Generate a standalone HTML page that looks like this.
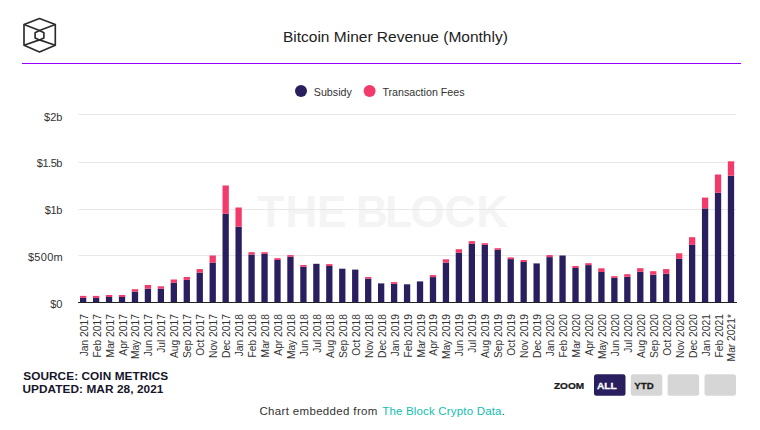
<!DOCTYPE html>
<html><head><meta charset="utf-8"><style>
html,body{margin:0;padding:0;background:#fff;width:760px;height:430px;overflow:hidden}
svg{display:block}
text{font-family:"Liberation Sans",Arial,sans-serif}
</style></head><body>
<svg width="760" height="430" viewBox="0 0 760 430">
<rect width="760" height="430" fill="#fff"/>
<g fill="none" stroke="#2b2b2b" stroke-width="1.65" stroke-linejoin="round">
<path d="M39.5 18.6 L55.3 24.6 L55.3 45.2 L39.5 52 L24 45.2 L24 24.6 Z"/>
<path d="M24 24.6 L39.5 30.6 L55.3 24.6 M24 45.2 L39.5 39.9 L55.3 45.2"/>
<path d="M39.5 30.6 L43.9 32.7 L43.9 37.9 L39.5 39.9 L35.1 37.9 L35.1 32.7 Z"/>
</g>
<text x="395.4" y="41.8" text-anchor="middle" font-size="15.5" fill="#222">Bitcoin Miner Revenue (Monthly)</text>
<rect x="22" y="63" width="719" height="1" fill="#9500ff"/>
<circle cx="301" cy="91" r="6" fill="#2a1f5e"/>
<text x="313.8" y="95.8" font-size="10.7" fill="#333">Subsidy</text>
<circle cx="369.6" cy="91" r="6" fill="#f23a6b"/>
<text x="382.4" y="95.8" font-size="10.7" fill="#333">Transaction Fees</text>
<text x="257.5 285.4 316.95 340 356.0 385.0 410.5 444.2 476.5" y="226.9" font-size="44" font-weight="bold" fill="#f4f4f4">THE BLOCK</text>
<rect x="78.5" y="114.0" width="657.5" height="1" fill="#e8e8e8"/><rect x="78.5" y="162.0" width="657.5" height="1" fill="#e8e8e8"/><rect x="78.5" y="209.0" width="657.5" height="1" fill="#e8e8e8"/><rect x="78.5" y="255.0" width="657.5" height="1" fill="#e8e8e8"/>
<g font-size="11" fill="#333"><text x="62.4" y="120.9" text-anchor="end" letter-spacing="0">$2b</text><text x="62.0" y="166.8" text-anchor="end" letter-spacing="-0.45">$1.5b</text><text x="62.1" y="213.6" text-anchor="end" letter-spacing="-0.3">$1b</text><text x="63.1" y="261.1" text-anchor="end" letter-spacing="0.3">$500m</text><text x="62.4" y="307.8" text-anchor="end" letter-spacing="0">$0</text></g>
<rect x="79.99" y="297.9" width="6.3" height="4.6" fill="#2a1f5e"/><rect x="79.99" y="295.9" width="6.3" height="2.0" fill="#f23a6b"/><rect x="92.95" y="297.9" width="6.3" height="4.6" fill="#2a1f5e"/><rect x="92.95" y="295.9" width="6.3" height="2.0" fill="#f23a6b"/><rect x="105.90" y="297.0" width="6.3" height="5.5" fill="#2a1f5e"/><rect x="105.90" y="295.0" width="6.3" height="2.0" fill="#f23a6b"/><rect x="118.86" y="297.0" width="6.3" height="5.5" fill="#2a1f5e"/><rect x="118.86" y="295.0" width="6.3" height="2.0" fill="#f23a6b"/><rect x="131.82" y="291.6" width="6.3" height="10.9" fill="#2a1f5e"/><rect x="131.82" y="289.2" width="6.3" height="2.4" fill="#f23a6b"/><rect x="144.77" y="288.7" width="6.3" height="13.8" fill="#2a1f5e"/><rect x="144.77" y="285.0" width="6.3" height="3.7" fill="#f23a6b"/><rect x="157.73" y="288.7" width="6.3" height="13.8" fill="#2a1f5e"/><rect x="157.73" y="286.3" width="6.3" height="2.4" fill="#f23a6b"/><rect x="170.69" y="282.8" width="6.3" height="19.7" fill="#2a1f5e"/><rect x="170.69" y="279.5" width="6.3" height="3.3" fill="#f23a6b"/><rect x="183.65" y="279.9" width="6.3" height="22.6" fill="#2a1f5e"/><rect x="183.65" y="277.0" width="6.3" height="2.9" fill="#f23a6b"/><rect x="196.60" y="272.6" width="6.3" height="29.9" fill="#2a1f5e"/><rect x="196.60" y="269.1" width="6.3" height="3.5" fill="#f23a6b"/><rect x="209.56" y="262.8" width="6.3" height="39.7" fill="#2a1f5e"/><rect x="209.56" y="255.5" width="6.3" height="7.3" fill="#f23a6b"/><rect x="222.52" y="213.8" width="6.3" height="88.7" fill="#2a1f5e"/><rect x="222.52" y="185.5" width="6.3" height="28.3" fill="#f23a6b"/><rect x="235.47" y="226.7" width="6.3" height="75.8" fill="#2a1f5e"/><rect x="235.47" y="207.5" width="6.3" height="19.2" fill="#f23a6b"/><rect x="248.43" y="254.6" width="6.3" height="47.9" fill="#2a1f5e"/><rect x="248.43" y="252.2" width="6.3" height="2.4" fill="#f23a6b"/><rect x="261.39" y="253.9" width="6.3" height="48.6" fill="#2a1f5e"/><rect x="261.39" y="252.2" width="6.3" height="1.7" fill="#f23a6b"/><rect x="274.35" y="260.0" width="6.3" height="42.5" fill="#2a1f5e"/><rect x="274.35" y="258.2" width="6.3" height="1.8" fill="#f23a6b"/><rect x="287.30" y="256.8" width="6.3" height="45.7" fill="#2a1f5e"/><rect x="287.30" y="255.1" width="6.3" height="1.7" fill="#f23a6b"/><rect x="300.26" y="266.7" width="6.3" height="35.8" fill="#2a1f5e"/><rect x="300.26" y="265.0" width="6.3" height="1.7" fill="#f23a6b"/><rect x="313.22" y="263.8" width="6.3" height="38.7" fill="#2a1f5e"/><rect x="326.17" y="266.0" width="6.3" height="36.5" fill="#2a1f5e"/><rect x="326.17" y="264.1" width="6.3" height="1.9" fill="#f23a6b"/><rect x="339.13" y="268.7" width="6.3" height="33.8" fill="#2a1f5e"/><rect x="352.09" y="269.6" width="6.3" height="32.9" fill="#2a1f5e"/><rect x="365.04" y="278.6" width="6.3" height="23.9" fill="#2a1f5e"/><rect x="365.04" y="277.0" width="6.3" height="1.6" fill="#f23a6b"/><rect x="378.00" y="283.4" width="6.3" height="19.1" fill="#2a1f5e"/><rect x="390.96" y="283.8" width="6.3" height="18.7" fill="#2a1f5e"/><rect x="390.96" y="282.1" width="6.3" height="1.7" fill="#f23a6b"/><rect x="403.92" y="284.3" width="6.3" height="18.2" fill="#2a1f5e"/><rect x="416.87" y="281.4" width="6.3" height="21.1" fill="#2a1f5e"/><rect x="429.83" y="277.1" width="6.3" height="25.4" fill="#2a1f5e"/><rect x="429.83" y="275.1" width="6.3" height="2.0" fill="#f23a6b"/><rect x="442.79" y="262.6" width="6.3" height="39.9" fill="#2a1f5e"/><rect x="442.79" y="259.3" width="6.3" height="3.3" fill="#f23a6b"/><rect x="455.74" y="252.8" width="6.3" height="49.7" fill="#2a1f5e"/><rect x="455.74" y="249.2" width="6.3" height="3.6" fill="#f23a6b"/><rect x="468.70" y="243.9" width="6.3" height="58.6" fill="#2a1f5e"/><rect x="468.70" y="241.2" width="6.3" height="2.7" fill="#f23a6b"/><rect x="481.66" y="244.9" width="6.3" height="57.6" fill="#2a1f5e"/><rect x="481.66" y="243.2" width="6.3" height="1.7" fill="#f23a6b"/><rect x="494.61" y="249.9" width="6.3" height="52.6" fill="#2a1f5e"/><rect x="494.61" y="248.2" width="6.3" height="1.7" fill="#f23a6b"/><rect x="507.57" y="259.1" width="6.3" height="43.4" fill="#2a1f5e"/><rect x="507.57" y="257.4" width="6.3" height="1.7" fill="#f23a6b"/><rect x="520.53" y="262.0" width="6.3" height="40.5" fill="#2a1f5e"/><rect x="520.53" y="260.0" width="6.3" height="2.0" fill="#f23a6b"/><rect x="533.49" y="263.4" width="6.3" height="39.1" fill="#2a1f5e"/><rect x="546.44" y="257.1" width="6.3" height="45.4" fill="#2a1f5e"/><rect x="546.44" y="255.1" width="6.3" height="2.0" fill="#f23a6b"/><rect x="559.40" y="255.5" width="6.3" height="47.0" fill="#2a1f5e"/><rect x="572.36" y="268.0" width="6.3" height="34.5" fill="#2a1f5e"/><rect x="572.36" y="266.0" width="6.3" height="2.0" fill="#f23a6b"/><rect x="585.31" y="265.1" width="6.3" height="37.4" fill="#2a1f5e"/><rect x="585.31" y="263.2" width="6.3" height="1.9" fill="#f23a6b"/><rect x="598.27" y="272.0" width="6.3" height="30.5" fill="#2a1f5e"/><rect x="598.27" y="268.3" width="6.3" height="3.7" fill="#f23a6b"/><rect x="611.23" y="277.9" width="6.3" height="24.6" fill="#2a1f5e"/><rect x="611.23" y="276.2" width="6.3" height="1.7" fill="#f23a6b"/><rect x="624.18" y="276.8" width="6.3" height="25.7" fill="#2a1f5e"/><rect x="624.18" y="274.2" width="6.3" height="2.6" fill="#f23a6b"/><rect x="637.14" y="271.8" width="6.3" height="30.7" fill="#2a1f5e"/><rect x="637.14" y="268.2" width="6.3" height="3.6" fill="#f23a6b"/><rect x="650.10" y="274.7" width="6.3" height="27.8" fill="#2a1f5e"/><rect x="650.10" y="271.2" width="6.3" height="3.5" fill="#f23a6b"/><rect x="663.06" y="273.7" width="6.3" height="28.8" fill="#2a1f5e"/><rect x="663.06" y="269.1" width="6.3" height="4.6" fill="#f23a6b"/><rect x="676.01" y="258.9" width="6.3" height="43.6" fill="#2a1f5e"/><rect x="676.01" y="253.3" width="6.3" height="5.6" fill="#f23a6b"/><rect x="688.97" y="244.9" width="6.3" height="57.6" fill="#2a1f5e"/><rect x="688.97" y="237.2" width="6.3" height="7.7" fill="#f23a6b"/><rect x="701.93" y="208.4" width="6.3" height="94.1" fill="#2a1f5e"/><rect x="701.93" y="197.6" width="6.3" height="10.8" fill="#f23a6b"/><rect x="714.88" y="192.8" width="6.3" height="109.7" fill="#2a1f5e"/><rect x="714.88" y="174.5" width="6.3" height="18.3" fill="#f23a6b"/><rect x="727.84" y="175.7" width="6.3" height="126.8" fill="#2a1f5e"/><rect x="727.84" y="161.3" width="6.3" height="14.4" fill="#f23a6b"/>
<rect x="78" y="302" width="659" height="1" fill="#222"/>
<g font-size="10.25" fill="#333"><text transform="translate(87.64,314.1) rotate(-90)" text-anchor="end">Jan 2017</text><text transform="translate(100.60,314.1) rotate(-90)" text-anchor="end">Feb 2017</text><text transform="translate(113.55,314.1) rotate(-90)" text-anchor="end">Mar 2017</text><text transform="translate(126.51,314.1) rotate(-90)" text-anchor="end">Apr 2017</text><text transform="translate(139.47,314.1) rotate(-90)" text-anchor="end">May 2017</text><text transform="translate(152.42,314.1) rotate(-90)" text-anchor="end">Jun 2017</text><text transform="translate(165.38,314.1) rotate(-90)" text-anchor="end">Jul 2017</text><text transform="translate(178.34,314.1) rotate(-90)" text-anchor="end">Aug 2017</text><text transform="translate(191.30,314.1) rotate(-90)" text-anchor="end">Sep 2017</text><text transform="translate(204.25,314.1) rotate(-90)" text-anchor="end">Oct 2017</text><text transform="translate(217.21,314.1) rotate(-90)" text-anchor="end">Nov 2017</text><text transform="translate(230.17,314.1) rotate(-90)" text-anchor="end">Dec 2017</text><text transform="translate(243.12,314.1) rotate(-90)" text-anchor="end">Jan 2018</text><text transform="translate(256.08,314.1) rotate(-90)" text-anchor="end">Feb 2018</text><text transform="translate(269.04,314.1) rotate(-90)" text-anchor="end">Mar 2018</text><text transform="translate(282.00,314.1) rotate(-90)" text-anchor="end">Apr 2018</text><text transform="translate(294.95,314.1) rotate(-90)" text-anchor="end">May 2018</text><text transform="translate(307.91,314.1) rotate(-90)" text-anchor="end">Jun 2018</text><text transform="translate(320.87,314.1) rotate(-90)" text-anchor="end">Jul 2018</text><text transform="translate(333.82,314.1) rotate(-90)" text-anchor="end">Aug 2018</text><text transform="translate(346.78,314.1) rotate(-90)" text-anchor="end">Sep 2018</text><text transform="translate(359.74,314.1) rotate(-90)" text-anchor="end">Oct 2018</text><text transform="translate(372.69,314.1) rotate(-90)" text-anchor="end">Nov 2018</text><text transform="translate(385.65,314.1) rotate(-90)" text-anchor="end">Dec 2018</text><text transform="translate(398.61,314.1) rotate(-90)" text-anchor="end">Jan 2019</text><text transform="translate(411.56,314.1) rotate(-90)" text-anchor="end">Feb 2019</text><text transform="translate(424.52,314.1) rotate(-90)" text-anchor="end">Mar 2019</text><text transform="translate(437.48,314.1) rotate(-90)" text-anchor="end">Apr 2019</text><text transform="translate(450.44,314.1) rotate(-90)" text-anchor="end">May 2019</text><text transform="translate(463.39,314.1) rotate(-90)" text-anchor="end">Jun 2019</text><text transform="translate(476.35,314.1) rotate(-90)" text-anchor="end">Jul 2019</text><text transform="translate(489.31,314.1) rotate(-90)" text-anchor="end">Aug 2019</text><text transform="translate(502.26,314.1) rotate(-90)" text-anchor="end">Sep 2019</text><text transform="translate(515.22,314.1) rotate(-90)" text-anchor="end">Oct 2019</text><text transform="translate(528.18,314.1) rotate(-90)" text-anchor="end">Nov 2019</text><text transform="translate(541.13,314.1) rotate(-90)" text-anchor="end">Dec 2019</text><text transform="translate(554.09,314.1) rotate(-90)" text-anchor="end">Jan 2020</text><text transform="translate(567.05,314.1) rotate(-90)" text-anchor="end">Feb 2020</text><text transform="translate(580.01,314.1) rotate(-90)" text-anchor="end">Mar 2020</text><text transform="translate(592.96,314.1) rotate(-90)" text-anchor="end">Apr 2020</text><text transform="translate(605.92,314.1) rotate(-90)" text-anchor="end">May 2020</text><text transform="translate(618.88,314.1) rotate(-90)" text-anchor="end">Jun 2020</text><text transform="translate(631.83,314.1) rotate(-90)" text-anchor="end">Jul 2020</text><text transform="translate(644.79,314.1) rotate(-90)" text-anchor="end">Aug 2020</text><text transform="translate(657.75,314.1) rotate(-90)" text-anchor="end">Sep 2020</text><text transform="translate(670.71,314.1) rotate(-90)" text-anchor="end">Oct 2020</text><text transform="translate(683.66,314.1) rotate(-90)" text-anchor="end">Nov 2020</text><text transform="translate(696.62,314.1) rotate(-90)" text-anchor="end">Dec 2020</text><text transform="translate(709.58,314.1) rotate(-90)" text-anchor="end">Jan 2021</text><text transform="translate(722.53,314.1) rotate(-90)" text-anchor="end">Feb 2021</text><text transform="translate(735.49,314.1) rotate(-90)" text-anchor="end">Mar 2021*</text></g>
<g font-size="11.8" font-weight="bold" fill="#16162a" letter-spacing="0.08">
<text x="23.2" y="379.8">SOURCE: COIN METRICS</text>
<text x="22.4" y="392.6">UPDATED: MAR 28, 2021</text>
</g>
<text transform="translate(553.9,388.9) scale(1.12,1)" font-size="9" font-weight="bold" fill="#1a1a1a" stroke="#1a1a1a" stroke-width="0.25">ZOOM</text>
<rect x="594" y="374.3" width="31.5" height="21.4" rx="2.5" fill="#2a1f5e"/>
<text transform="translate(596.9,389.4) scale(1.14,1)" font-size="9" font-weight="bold" fill="#fff" stroke="#fff" stroke-width="0.25">ALL</text>
<rect x="630.8" y="374.3" width="31.5" height="21.4" rx="2.5" fill="#d6d6d6"/>
<text transform="translate(634.3,389.4) scale(1.08,1)" font-size="9" font-weight="bold" fill="#1a1a1a" stroke="#1a1a1a" stroke-width="0.25">YTD</text>
<rect x="667.6" y="374.3" width="31.5" height="21.4" rx="2.5" fill="#d6d6d6"/>
<rect x="704.5" y="374.3" width="31.5" height="21.4" rx="2.5" fill="#d6d6d6"/>
<text x="259.4" y="414.8" font-size="11.5" fill="#333" letter-spacing="0.34">Chart embedded from</text><text x="382.2" y="414.8" font-size="11.5" fill="#0ebfb0" letter-spacing="0.18">The Block Crypto Data<tspan fill="#333">.</tspan></text>
</svg>
</body></html>
